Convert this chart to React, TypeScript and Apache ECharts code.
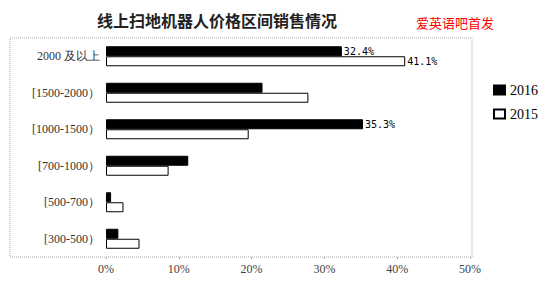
import React, { useEffect, useRef } from "react";
import * as echarts from "echarts";

const categories = ["2000 及以上", "[1500-2000）", "[1000-1500）", "[700-1000）", "[500-700）", "[300-500）"];
const values2016 = [32.4, 21.5, 35.3, 11.3, 0.7, 1.7];
const values2015 = [41.1, 27.8, 19.6, 8.6, 2.4, 4.6];
const labeled2016 = [true, false, true, false, false, false];
const labeled2015 = [true, false, false, false, false, false];
const xTicks = [0, 10, 20, 30, 40, 50];

export default function App() {
  const ref = useRef<HTMLDivElement>(null);
  useEffect(() => {
    if (!ref.current) return;
    const chart = echarts.init(ref.current, null, { renderer: "svg" });
    const labelStyle = {
      show: true,
      position: "right" as const,
      distance: 2,
      formatter: (p: any) => p.value.toFixed(1) + "%",
      fontFamily: "DejaVu Sans Mono",
      fontSize: 10,
      color: "#000",
    };
    chart.setOption({
      animation: false,
      backgroundColor: "#fff",
      title: [
        {
          text: "线上扫地机器人价格区间销售情况",
          left: 212,
          textAlign: "center",
          top: 7,
          textStyle: { fontFamily: "Noto Sans CJK SC", fontWeight: "bold", fontSize: 16, color: "#222" },
        },
        {
          text: "爱英语吧首发",
          left: 411,
          top: 11,
          textStyle: { fontFamily: "Noto Sans CJK SC", fontWeight: "normal", fontSize: 13, color: "#f00" },
        },
      ],
      graphic: [
        {
          type: "rect",
          shape: { x: 10, y: 38, width: 462, height: 219 },
          style: { fill: "none", stroke: "#aaa", lineWidth: 1, lineDash: [1, 1] },
          silent: true,
        },
      ],
      legend: {
        orient: "vertical",
        left: 488,
        top: 78,
        itemWidth: 11,
        itemHeight: 9,
        itemGap: 10,
        icon: "rect",
        textStyle: { fontFamily: "Liberation Serif", fontSize: 14, color: "#000" },
        data: ["2016", "2015"],
      },
      grid: { left: 106, right: 84, top: 38, bottom: 30 },
      xAxis: {
        type: "value",
        min: 0,
        max: 50,
        interval: 10,
        axisLine: { show: false },
        axisTick: { show: true, length: 2, lineStyle: { color: "#aaa" } },
        splitLine: { show: false },
        axisLabel: {
          formatter: (v: number) => (xTicks.includes(v) ? v + "%" : ""),
          fontFamily: "Liberation Serif",
          fontSize: 12,
          color: "#444",
          margin: 6,
        },
      },
      yAxis: {
        type: "category",
        inverse: true,
        data: categories,
        axisLine: { show: false },
        axisTick: { show: false },
        axisLabel: { fontFamily: "Liberation Serif", fontSize: 12, color: "#333", margin: 6 },
      },
      series: [
        {
          name: "2016",
          type: "bar",
          barWidth: 10,
          barGap: "0%",
          itemStyle: { color: "#000", borderColor: "#000", borderWidth: 1 },
          data: values2016.map((v, i) => ({ value: v, label: labeled2016[i] ? labelStyle : { show: false } })),
        },
        {
          name: "2015",
          type: "bar",
          barWidth: 10,
          barGap: "0%",
          itemStyle: { color: "#fff", borderColor: "#000", borderWidth: 1 },
          data: values2015.map((v, i) => ({ value: v, label: labeled2015[i] ? labelStyle : { show: false } })),
        },
      ],
    });
    return () => chart.dispose();
  }, []);
  return <div ref={ref} style={{ width: 554, height: 287, position: "absolute", left: 0, top: 0 }} />;
}
